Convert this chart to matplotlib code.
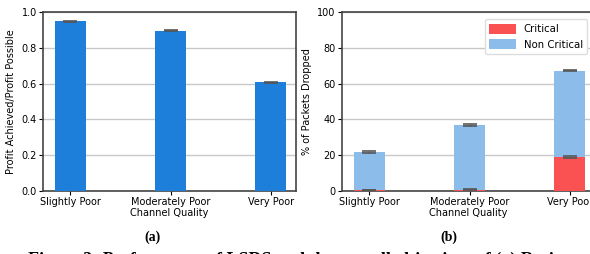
import numpy as np
import matplotlib
matplotlib.use("Agg")
import matplotlib.pyplot as plt

categories = ["Slightly Poor", "Moderately Poor", "Very Poor"]
profit_ratio = [0.95, 0.897, 0.608]
profit_err = [0.003, 0.003, 0.003]
critical = [0.4, 0.6, 19.0]
critical_err = [0.2, 0.2, 0.4]
non_critical = [21.1, 36.1, 48.4]
total_err = [0.6, 0.5, 0.5]

blue = "#1e7fdb"
light_blue = "#8cbdea"
red = "#fa5252"
err_kw = dict(ecolor="#555555", capsize=5.3, elinewidth=1.0, capthick=1.3, alpha=0.9)

plt.rcParams["font.size"] = 7
fig = plt.figure(figsize=(5.9, 2.54), dpi=100)
ax1 = fig.add_axes([0.0729, 0.249, 0.4288, 0.702])
ax2 = fig.add_axes([0.5797, 0.249, 0.4288, 0.702])

x = np.arange(len(categories))

ax1.bar(x, profit_ratio, width=0.31, color=blue, yerr=profit_err, error_kw=err_kw, zorder=3)
ax1.set_ylim(0, 1.0)
ax1.set_yticks(np.arange(0, 1.01, 0.2))
ax1.set_ylabel("Profit Achieved/Profit Possible", fontsize=7)

ax2.bar(x, critical, width=0.31, color=red, label="Critical", zorder=3)
ax2.bar(x, non_critical, width=0.31, bottom=critical, color=light_blue,
        label="Non Critical", zorder=3)
ax2.errorbar(x, critical, yerr=critical_err, fmt="none", zorder=4, **err_kw)
totals = [c + n for c, n in zip(critical, non_critical)]
ax2.errorbar(x, totals, yerr=total_err, fmt="none", zorder=4, **err_kw)
ax2.set_ylim(0, 100)
ax2.set_yticks(range(0, 101, 20))
ax2.set_ylabel("% of Packets Dropped", fontsize=7)
ax2.legend(loc="upper right", fontsize=7.3, framealpha=1, edgecolor="#dddddd",
           handlelength=2.6, handleheight=1.1, borderpad=0.45,
           bbox_to_anchor=(0.99, 0.99))

for ax in (ax1, ax2):
    ax.set_xticks(x)
    ax.set_xticklabels(categories)
    ax.set_xlim(-0.27, 2.25)
    ax.set_xlabel("Channel Quality", labelpad=0.5)
    ax.grid(axis="y", color="#c8c8c8", linewidth=1, zorder=0)
    ax.tick_params(length=3, pad=1.5)
    for s in ax.spines.values():
        s.set_color("#444444")
        s.set_linewidth(1.2)

fig.text(0.259, 0.067, "(a)", fontsize=10, fontweight="bold", family="Liberation Serif",
         ha="center", va="center")
fig.text(0.761, 0.067, "(b)", fontsize=10, fontweight="bold", family="Liberation Serif",
         ha="center", va="center")
fig.text(0.5, -0.045, "Figure 3: Performance of LSDS and the overall objectives of (a) Ratio",
         fontsize=13, fontweight="bold", family="Liberation Serif", ha="center", va="baseline")

fig.savefig("out.png", dpi=100)
